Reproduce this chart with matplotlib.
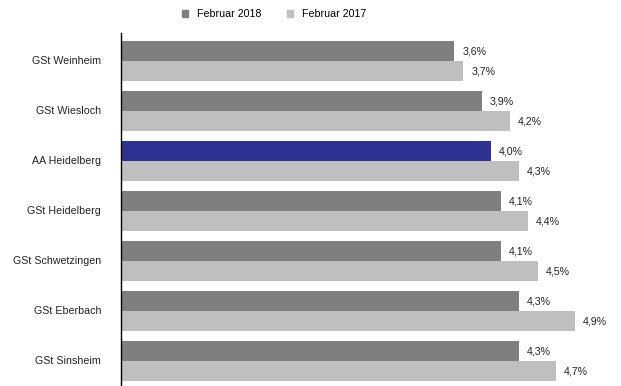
import numpy as np
import matplotlib.pyplot as plt
from matplotlib.patches import Patch

plt.rcParams['font.family'] = ['Liberation Sans', 'DejaVu Sans']

categories = ['GSt Weinheim', 'GSt Wiesloch', 'AA Heidelberg', 'GSt Heidelberg',
              'GSt Schwetzingen', 'GSt Eberbach', 'GSt Sinsheim']
feb_2018 = [3.6, 3.9, 4.0, 4.1, 4.1, 4.3, 4.3]
feb_2017 = [3.7, 4.2, 4.3, 4.4, 4.5, 4.9, 4.7]

dark = '#7f7f7f'
light = '#bfbfbf'
blue = '#2e3192'

fig = plt.figure(figsize=(6.21, 3.86), dpi=100)
ax = fig.add_axes([121 / 621, 0, 498 / 621, 353 / 386])

y = np.arange(len(categories))
h = 0.4
colors_2018 = [blue if c == 'AA Heidelberg' else dark for c in categories]
b1 = ax.barh(y - h / 2, feb_2018, height=h, color=colors_2018)
b2 = ax.barh(y + h / 2, feb_2017, height=h, color=light)

# value labels
for bars, vals in ((b1, feb_2018), (b2, feb_2017)):
    for bar, v in zip(bars, vals):
        ax.annotate(f'{v:.1f}%'.replace('.', ','),
                    (bar.get_width(), bar.get_y() + bar.get_height() / 2),
                    xytext=(8, 0), textcoords='offset pixels',
                    va='center', ha='left', fontsize=7.7, color='#222222')

# category labels, right-aligned left of the axis
for i, c in enumerate(categories):
    ax.annotate(c, (0, i), xycoords=('axes fraction', 'data'),
                xytext=(-20, 0), textcoords='offset pixels',
                ha='right', va='center', fontsize=7.7, color='#222222',
                annotation_clip=False)

ax.set_xlim(0, 5.38)
ax.set_ylim(6.5, -0.56)
ax.set_yticks([])
ax.set_xticks([])
for s in ['top', 'right', 'bottom']:
    ax.spines[s].set_visible(False)
ax.spines['left'].set_linewidth(1)

fig.legend([Patch(color=dark), Patch(color=light)], ['Februar 2018', 'Februar 2017'],
           loc='center', bbox_to_anchor=(274 / 621, 1 - 14 / 386), ncol=2, frameon=False,
           fontsize=7.7, handlelength=0.6, handleheight=0.6, handletextpad=0.8,
           columnspacing=2.4)

fig.savefig('out.png', dpi=100)
